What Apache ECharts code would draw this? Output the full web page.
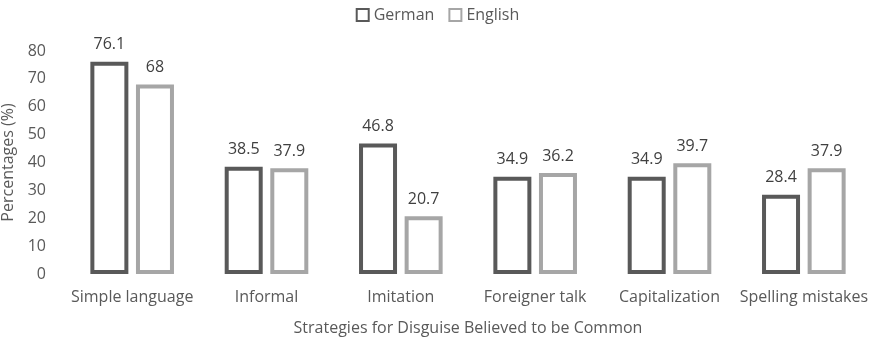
<!DOCTYPE html>
<html>
<head>
<meta charset="utf-8">
<script src="https://cdn.jsdelivr.net/npm/echarts@6/dist/echarts.min.js"></script>
<style>
  html, body { margin: 0; padding: 0; background: #fff; }
  #chart { width: 875px; height: 339px; }
</style>
</head>
<body>
<div id="chart"></div>
<script>
var categories = ['Simple language', 'Informal', 'Imitation', 'Foreigner talk', 'Capitalization', 'Spelling mistakes'];
var german = [76.1, 38.5, 46.8, 34.9, 34.9, 28.4];
var english = [68, 37.9, 20.7, 36.2, 39.7, 37.9];

var dom = document.getElementById('chart');
var myChart = echarts.init(dom, null, { renderer: 'canvas' });
var font = 'Open Sans';

var option = {
  animation: false,
  textStyle: { fontFamily: font },
  legend: {
    top: 2,
    left: 'center',
    icon: 'rect',
    itemWidth: 12,
    itemHeight: 12,
    itemGap: 14,
    textStyle: { fontSize: 16, color: '#595959', fontFamily: font },
    data: ['German', 'English']
  },
  grid: { left: 65, right: 4, top: 51, bottom: 65, outerBoundsMode: 'none', containLabel: false },
  xAxis: {
    type: 'category',
    data: categories,
    axisLine: { show: false },
    axisTick: { show: false },
    axisLabel: { interval: 0, fontSize: 16, color: '#595959', margin: 15, fontFamily: font },
    name: 'Strategies for Disguise Believed to be Common',
    nameLocation: 'middle',
    nameGap: 46,
    nameTextStyle: { fontSize: 16, color: '#595959', fontFamily: font }
  },
  yAxis: {
    type: 'value',
    min: 0,
    max: 80,
    interval: 10,
    splitLine: { show: false },
    axisLine: { show: false },
    axisTick: { show: false },
    axisLabel: { fontSize: 16, color: '#595959', margin: 19, fontFamily: font },
    name: 'Percentages (%)',
    nameLocation: 'middle',
    nameGap: 48,
    nameTextStyle: { fontSize: 16, color: '#595959', fontFamily: font }
  },
  series: [
    {
      name: 'German',
      type: 'bar',
      data: german,
      barWidth: 38,
      barGap: '20%',
      itemStyle: { color: '#ffffff', borderColor: '#595959', borderWidth: 4 },
      label: { show: true, position: 'top', distance: 9, fontSize: 16, color: '#404040', fontFamily: font }
    },
    {
      name: 'English',
      type: 'bar',
      data: english,
      barWidth: 38,
      itemStyle: { color: '#ffffff', borderColor: '#a6a6a6', borderWidth: 4 },
      label: { show: true, position: 'top', distance: 9, fontSize: 16, color: '#404040', fontFamily: font }
    }
  ]
};

myChart.setOption(option);
window.addEventListener('resize', myChart.resize);
</script>
</body>
</html>
